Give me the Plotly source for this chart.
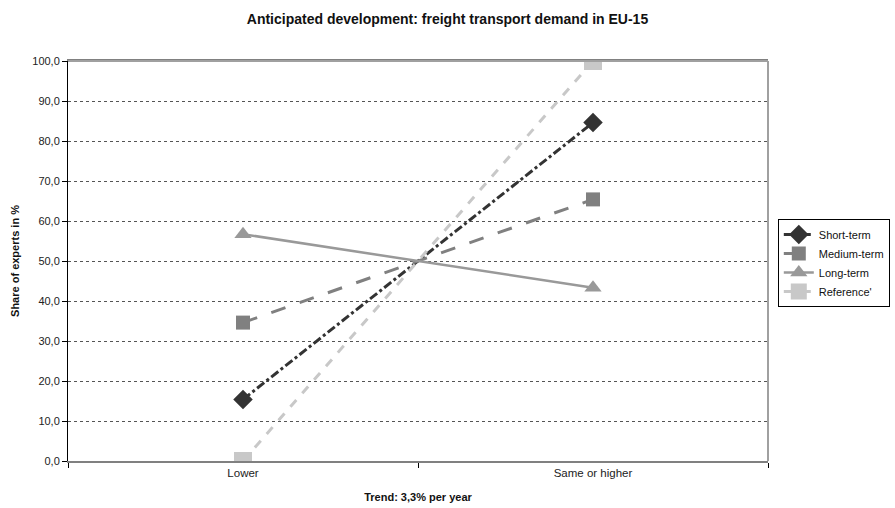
import plotly.graph_objects as go

categories = ["Lower", "Same or higher"]
short_term = [15.4, 84.6]
medium_term = [34.6, 65.4]
long_term = [56.7, 43.3]
reference = [0.0, 100.0]

y_ticks = [0, 10, 20, 30, 40, 50, 60, 70, 80, 90, 100]

fig = go.Figure()

fig.add_trace(go.Scatter(
    x=categories, y=short_term, name="Short-term", mode="lines+markers",
    line=dict(color="#333333", width=3, dash="dashdot"),
    marker=dict(symbol="diamond", size=15, color="#333333"),
))
fig.add_trace(go.Scatter(
    x=categories, y=medium_term, name="Medium-term", mode="lines+markers",
    line=dict(color="#808080", width=3, dash="longdash"),
    marker=dict(symbol="square", size=14, color="#808080"),
))
fig.add_trace(go.Scatter(
    x=categories, y=long_term, name="Long-term", mode="lines+markers",
    line=dict(color="#999999", width=2.5),
    marker=dict(symbol="triangle-up", size=15, color="#999999"),
))
fig.add_trace(go.Scatter(
    x=categories, y=reference, name="Reference'", mode="lines+markers",
    line=dict(color="#c8c8c8", width=3, dash="dash"),
    marker=dict(symbol="square", size=18, color="#c8c8c8"),
))

fig.update_layout(
    width=895, height=508,
    margin=dict(l=68, r=127, t=61, b=47, autoexpand=False),
    paper_bgcolor="white", plot_bgcolor="white",
    separators=",.",
    font=dict(family="Arial, Liberation Sans, sans-serif", size=11, color="#222222"),
    title=dict(
        text="<b>Anticipated development: freight transport demand in EU-15</b>",
        x=0.5, xanchor="center", y=0.962, yanchor="middle",
        font=dict(size=14, color="#111111"),
    ),
    legend=dict(
        x=1.014, y=0.605, xanchor="left", yanchor="top",
        bordercolor="#000000", borderwidth=1, bgcolor="white",
        font=dict(size=11, color="#111111"),
        tracegroupgap=0, itemwidth=30,
    ),
    showlegend=True,
)

fig.update_xaxes(
    type="category", range=[-0.5, 1.5],
    showgrid=False, showline=True, linecolor="#808080", linewidth=2,
    mirror=True, ticks="outside", tickson="boundaries", ticklen=5,
    tickcolor="#000000",
    title=dict(text="<b>Trend: 3,3% per year</b>", font=dict(size=11, color="#111111"), standoff=16),
    tickfont=dict(size=11.5, color="#222222"),
)
fig.update_yaxes(
    range=[0, 100], tickvals=y_ticks, tickformat=".1f",
    showgrid=True, gridcolor="#555555", griddash="dot", gridwidth=1,
    showline=True, linecolor="#000000", linewidth=1,
    ticks="outside", ticklen=5, tickcolor="#000000",
    zeroline=False,
    title=dict(text="<b>Share of experts in %</b>", font=dict(size=11, color="#111111"), standoff=10),
    tickfont=dict(size=11, color="#222222"),
)

# gray frame on top and right of the plot area
fig.add_shape(type="line", xref="paper", yref="paper", x0=0, x1=1, y0=1, y1=1,
              line=dict(color="#a0a0a0", width=2))
fig.add_shape(type="line", xref="paper", yref="paper", x0=1, x1=1, y0=0, y1=1,
              line=dict(color="#a0a0a0", width=2))

fig.write_html("out.html")
